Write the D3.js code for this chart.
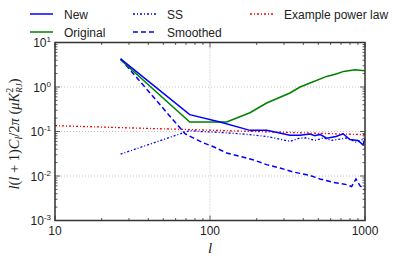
<!DOCTYPE html>
<html>
<head>
<meta charset="utf-8">
<script src="https://cdn.jsdelivr.net/npm/d3@7"></script>
<style>
  body { margin: 0; background: #fff; }
  text { fill: #222; }
</style>
</head>
<body>
<svg id="chart" width="399" height="260" font-family="Liberation Sans, Arial, sans-serif"></svg>
<script>
// data (multipole l, value)
const newL = [26.5, 74, 116, 181, 232, 328, 381, 442, 475, 512, 566, 650, 722, 800, 901, 971, 1000];
const newV = [4.3, 0.239, 0.163, 0.106, 0.106, 0.082, 0.082, 0.088, 0.080, 0.086, 0.071, 0.077, 0.089, 0.066, 0.063, 0.050, 0.069];

const origL = [26.5, 74, 128, 181, 232, 328, 381, 442, 566, 660, 727, 862, 1000];
const origV = [4.1, 0.163, 0.163, 0.264, 0.437, 0.733, 1.0, 1.23, 1.73, 1.99, 2.24, 2.45, 2.32];

const ssL = [26.5, 74, 86, 116, 156, 232, 328, 381, 421, 475, 538, 610, 762, 883, 975];
const ssV = [0.031, 0.105, 0.100, 0.0955, 0.089, 0.0776, 0.060, 0.0714, 0.0714, 0.063, 0.0714, 0.063, 0.0714, 0.057, 0.068];

const smL = [26.5, 69, 90, 104.5, 128, 156, 189, 232, 283, 345, 442, 512, 623, 762, 820, 875, 929, 1000];
const smV = [4.3, 0.089, 0.056, 0.046, 0.033, 0.0275, 0.0232, 0.018, 0.0151, 0.0123, 0.0103, 0.0086, 0.0072, 0.0064, 0.0058, 0.0086, 0.006, 0.0049];

const plL = [10, 100, 1000];
const plV = [0.135, 0.107, 0.085];

const xTicks = [10, 100, 1000];
const yExps = [-3, -2, -1, 0, 1];

const drawChart = () => {
  const svg = d3.select('#chart');
  const left = 55, right = 365, top = 42.5, bottom = 220.5;

  const xScale = d3.scaleLog().domain([10, 1000]).range([left, right]);
  const yScale = d3.scaleLog().domain([1e-3, 10]).range([bottom, top]);

  // grid
  const grid = svg.append('g')
    .attr('stroke', '#b0b0b0').attr('stroke-width', 0.8).attr('stroke-dasharray', '1,2');
  grid.selectAll('.gy').data(yExps.map(e => Math.pow(10, e))).enter()
    .append('line')
    .attr('x1', left).attr('x2', right)
    .attr('y1', d => yScale(d)).attr('y2', d => yScale(d));
  grid.selectAll('.gx').data(xTicks).enter()
    .append('line')
    .attr('y1', top).attr('y2', bottom)
    .attr('x1', d => xScale(d)).attr('x2', d => xScale(d));

  // series
  const line = d3.line().x(d => xScale(d[0])).y(d => yScale(d[1]));
  const zip = (ls, vs) => ls.map((l, i) => [l, vs[i]]);
  const series = [
    { pts: zip(plL, plV), color: '#ff0000', dash: '2,2,1,2', w: 1.3 },
    { pts: zip(smL, smV), color: '#0000ff', dash: '5,3', w: 1.5 },
    { pts: zip(ssL, ssV), color: '#0000ff', dash: '2,2,1,2', w: 1.3 },
    { pts: zip(origL, origV), color: '#008000', dash: null, w: 1.5 },
    { pts: zip(newL, newV), color: '#0000ff', dash: null, w: 1.5 }
  ];
  const plot = svg.append('g');
  series.forEach(s => {
    plot.append('path')
      .attr('d', line(s.pts))
      .attr('fill', 'none')
      .attr('stroke', s.color)
      .attr('stroke-width', s.w)
      .attr('stroke-dasharray', s.dash);
  });

  // ticks (inward, all four sides)
  const minorX = [], minorY = [];
  for (let e = 1; e < 3; e++) for (let m = 2; m < 10; m++) minorX.push(m * Math.pow(10, e));
  for (let e = -3; e < 1; e++) for (let m = 2; m < 10; m++) minorY.push(m * Math.pow(10, e));
  const tk = svg.append('g').attr('stroke', '#333').attr('stroke-width', 0.8);
  const addX = (vals, len) => vals.forEach(v => {
    tk.append('line').attr('x1', xScale(v)).attr('x2', xScale(v)).attr('y1', bottom).attr('y2', bottom - len);
    tk.append('line').attr('x1', xScale(v)).attr('x2', xScale(v)).attr('y1', top).attr('y2', top + len);
  });
  const addY = (vals, len) => vals.forEach(v => {
    tk.append('line').attr('y1', yScale(v)).attr('y2', yScale(v)).attr('x1', left).attr('x2', left + len);
    tk.append('line').attr('y1', yScale(v)).attr('y2', yScale(v)).attr('x1', right).attr('x2', right - len);
  });
  addX(xTicks, 5); addX(minorX, 2.5);
  addY(yExps.map(e => Math.pow(10, e)), 5); addY(minorY, 2.5);

  // frame
  svg.append('rect')
    .attr('x', left).attr('y', top)
    .attr('width', right - left).attr('height', bottom - top)
    .attr('fill', 'none').attr('stroke', '#333').attr('stroke-width', 1.5);

  // tick labels
  svg.selectAll('.xl').data(xTicks).enter()
    .append('text')
    .attr('x', d => xScale(d)).attr('y', 235)
    .attr('text-anchor', 'middle').attr('font-size', 12)
    .text(d => d);
  yExps.forEach(e => {
    const t = svg.append('text')
      .attr('x', 51).attr('y', yScale(Math.pow(10, e)) + 4.5)
      .attr('text-anchor', 'end').attr('font-size', 12);
    t.append('tspan').text('10');
    t.append('tspan').attr('font-size', 8).attr('dy', -5).text(e);
  });

  // axis labels
  svg.append('text')
    .attr('x', 210).attr('y', 253)
    .attr('text-anchor', 'middle')
    .attr('font-family', 'Liberation Serif').attr('font-style', 'italic')
    .attr('font-size', 15).text('l');

  const yl = svg.append('text')
    .attr('transform', 'translate(19,134) rotate(-90)')
    .attr('text-anchor', 'middle')
    .attr('font-family', 'Liberation Serif').attr('font-size', 14.5);
  const part = (txt, it, opts) => {
    const s = yl.append('tspan').text(txt).attr('font-style', it ? 'italic' : 'normal');
    if (opts) Object.keys(opts).forEach(k => s.attr(k, opts[k]));
    return s;
  };
  part('l', true); part('(', false); part('l', true); part(' + 1)', false);
  part('C', true);
  part('l', true, { 'font-size': 10, dy: 3 });
  part('/2', false, { dy: -3 }); part('π', true); part(' (', false);
  part('μK', true);
  part('2', false, { 'font-size': 10, dy: -6 });
  part('RJ', true, { 'font-size': 9, dy: 9, dx: -5 });
  part(')', false, { dy: -3 });

  // legend
  const legend = [
    { label: 'New', x: 30, y: 14, s: series[4] },
    { label: 'Original', x: 30, y: 32, s: series[3] },
    { label: 'SS', x: 133, y: 14, s: series[2] },
    { label: 'Smoothed', x: 133, y: 32, s: series[1] },
    { label: 'Example power law', x: 250, y: 14, s: series[0] }
  ];
  legend.forEach(d => {
    svg.append('line')
      .attr('x1', d.x).attr('x2', d.x + 23).attr('y1', d.y).attr('y2', d.y)
      .attr('stroke', d.s.color).attr('stroke-width', d.s.w)
      .attr('stroke-dasharray', d.s.dash);
    svg.append('text')
      .attr('x', d.x + 34).attr('y', d.y + 4.5)
      .attr('font-size', 12).text(d.label);
  });
};

document.addEventListener('DOMContentLoaded', drawChart, false);
</script>
</body>
</html>
